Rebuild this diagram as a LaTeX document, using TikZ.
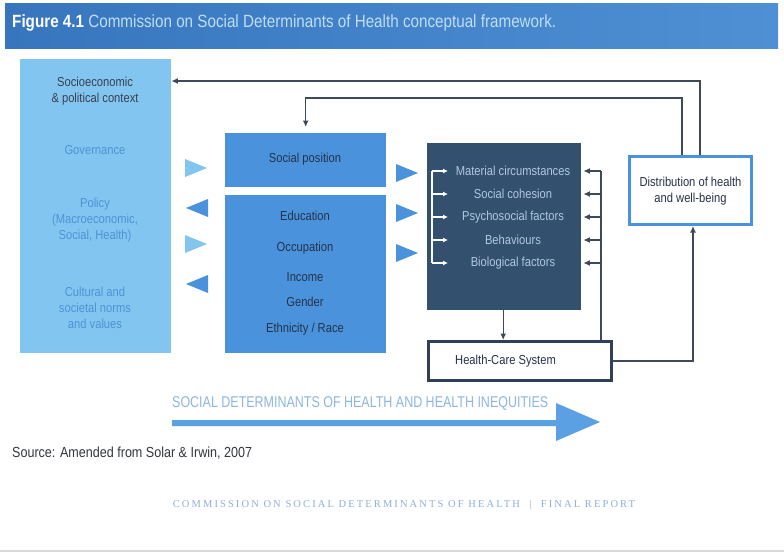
\documentclass[tikz,border=0pt]{standalone}
\usepackage{fontspec}
\setmainfont[FakeStretch=0.86]{Liberation Sans}
\newfontfamily\capsfont[FakeStretch=0.8]{Liberation Sans}
\newfontfamily\footfont[LetterSpace=20]{Liberation Serif}
\usetikzlibrary{arrows.meta,calc}
\definecolor{barL}{HTML}{3776BE}
\definecolor{barR}{HTML}{4F8FD3}
\definecolor{titletxt}{HTML}{BFDDF6}
\definecolor{ctxfill}{HTML}{82C5F0}
\definecolor{ctxdark}{HTML}{3A404C}
\definecolor{ctxblue}{HTML}{4E92D6}
\definecolor{midfill}{HTML}{4A93DC}
\definecolor{midtext}{HTML}{263248}
\definecolor{darkfill}{HTML}{34506F}
\definecolor{darktext}{HTML}{AFC7E1}
\definecolor{distline}{HTML}{4A93DC}
\definecolor{hcsline}{HTML}{2E405A}
\definecolor{cline}{HTML}{3E4A5A}
\definecolor{bigarrow}{HTML}{5AA0E2}
\definecolor{bigtext}{HTML}{8DB6E0}
\definecolor{foottxt}{HTML}{8FB0D8}
\definecolor{srctxt}{HTML}{33363C}
\begin{document}
\begin{tikzpicture}[x=1pt,y=-1pt,
  conn/.style={draw=cline, line width=1.3pt},
  tipa/.style={-{Latex[length=6.5pt,width=6pt]}},
  lbl/.style={inner sep=0pt, align=center},
  boxfill/.style={inner sep=0pt, anchor=north west},
  txt/.style={lbl, font=\fontsize{13}{16}\selectfont},
  tril/.style={fill=ctxfill},
  trid/.style={fill=midfill},
]
\fill[white] (0,0) rectangle (784,555);
\useasboundingbox (0,0) rectangle (784,555);
% title bar
\shade[left color=barL, right color=barR] (5,3) rectangle (778,48);
\node[lbl, anchor=west, font=\fontsize{17.7}{20}\selectfont] (title) at (12,23)
  {\textcolor{white}{\bfseries Figure 4.1} \textcolor{titletxt}{Commission on Social Determinants of Health conceptual framework.}};
% boxes
\node[boxfill, fill=ctxfill, minimum width=151pt, minimum height=294pt] (ctx) at (20,59) {};
\node[boxfill, fill=midfill, minimum width=161pt, minimum height=54pt] (sp) at (225,133) {};
\node[boxfill, fill=midfill, minimum width=161pt, minimum height=158pt] (se) at (225,195) {};
\node[boxfill, fill=darkfill, minimum width=154pt, minimum height=167pt] (dark) at (427,143) {};
\node[draw=distline, line width=3pt, fill=white, inner sep=0pt, minimum width=122pt, minimum height=68pt] (dist) at (690.5,190.5) {};
\node[draw=hcsline, line width=3pt, fill=white, inner sep=0pt, minimum width=183pt, minimum height=39pt] (hcs) at (520,361) {};
% left texts
\node[txt, text=ctxdark] (soc) at (95,91) {Socioeconomic\\\& political context};
\node[txt, text=ctxblue] (gov) at (95,150) {Governance};
\node[txt, text=ctxblue] (pol) at (95,220) {Policy\\(Macroeconomic,\\Social, Health)};
\node[txt, text=ctxblue] (cul) at (95,308) {Cultural and\\societal norms\\and values};
% middle texts
\node[txt, text=midtext] (spt) at (305,159) {Social position};
\node[txt, text=midtext] (edu) at (305,216) {Education};
\node[txt, text=midtext] (occ) at (305,248) {Occupation};
\node[txt, text=midtext] (inc) at (305,277) {Income};
\node[txt, text=midtext] (gen) at (305,302) {Gender};
\node[txt, text=midtext] (eth) at (305,329) {Ethnicity / Race};
% dark box items
\node[txt, text=darktext] (m1) at (513,171) {Material circumstances};
\node[txt, text=darktext] (m2) at (513,194) {Social cohesion};
\node[txt, text=darktext] (m3) at (513,217) {Psychosocial factors};
\node[txt, text=darktext] (m4) at (513,240) {Behaviours};
\node[txt, text=darktext] (m5) at (513,263) {Biological factors};
% other texts
\node[txt, text=midtext] (distt) at (690.5,191.5) {Distribution of health\\and well-being};
\node[txt, text=midtext, anchor=west] (hcst) at (455,361) {Health-Care System};
% triangles
\fill[tril] (185,159) -- (207,168) -- (185,177) -- cycle;
\fill[trid] (208,199) -- (186,208) -- (208,217) -- cycle;
\fill[tril] (185,235) -- (207,244) -- (185,253) -- cycle;
\fill[trid] (208,275) -- (186,284) -- (208,293) -- cycle;
\fill[trid] (396,164) -- (418,173) -- (396,182) -- cycle;
\fill[trid] (396,204) -- (418,213) -- (396,222) -- cycle;
\fill[trid] (396,244) -- (418,253) -- (396,262) -- cycle;
% feedback connectors
\draw[conn, tipa] ([xshift=9.5pt]dist.north) |- ([yshift=-22pt]ctx.north east);
\draw[conn, tipa, shorten >=6pt] ([xshift=-8.5pt]dist.north) -- ++(0,-57) -| (sp.north);
% dark box to health care
\draw[conn, tipa] ([xshift=-1pt]dark.south) -- ([xshift=-1pt]dark.south |- hcs.north);
% right vertical with arrows into items
\coordinate (vr) at ([xshift=-12pt]hcs.north east);
\draw[conn] (vr) -- (vr |- m1);
\foreach \m in {m1,m2,m3,m4,m5}{
  \draw[conn, tipa, shorten >=2pt] (vr |- \m) -- (dark.east |- \m);
}
% left white bracket
\coordinate (vl) at ([xshift=5pt]dark.west);
\draw[white, line width=1.1pt] (vl |- m1) -- (vl |- m5);
\foreach \m in {m1,m2,m3,m4,m5}{
  \draw[white, line width=1.1pt, -{Latex[length=5pt,width=5pt]}] (vl |- \m) -- ++(16,0);
}
% health care to distribution
\draw[conn, tipa] (hcs.east) -| ([xshift=2.5pt]dist.south);
% big arrow
\node[lbl, anchor=west, text=bigtext, font=\capsfont\fontsize{15.6}{18}\selectfont] (sdh) at (172,404) {SOCIAL DETERMINANTS OF HEALTH AND HEALTH INEQUITIES};
\fill[bigarrow] (172,420) -- (556,420) -- (556,403) -- (600,422) -- (556,441) -- (556,426) -- (172,426) -- cycle;
% source and footer
\node[lbl, anchor=west, text=srctxt, font=\fontsize{14.6}{16}\selectfont] (src) at (12,453) {Source: Amended from Solar \& Irwin, 2007};
\node[lbl, text=foottxt, font=\footfont\fontsize{10.5}{12}\selectfont] (foot) at (404,505) {COMMISSION ON SOCIAL DETERMINANTS OF HEALTH \ | \ FINAL REPORT};
\draw[black!15, line width=1.5pt] (0,551) -- (784,551);
\end{tikzpicture}
\end{document}
